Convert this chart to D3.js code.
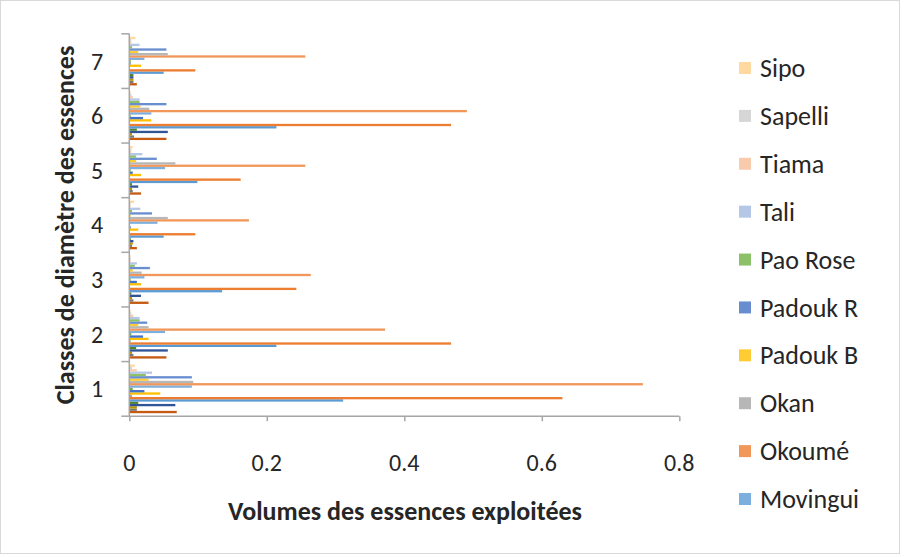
<!DOCTYPE html>
<html>
<head>
<meta charset="utf-8">
<script src="https://cdn.jsdelivr.net/npm/d3@7"></script>
<style>
  html, body { margin: 0; padding: 0; background: #fff; }
  svg { display: block; }
  text { font-family: Carlito, Calibri, Lato, "Open Sans", sans-serif; fill: #262626; }
</style>
</head>
<body>
<svg id="chart" width="904" height="557"></svg>
<script>
// ---- Data ----
const categories = ["1", "2", "3", "4", "5", "6", "7"];
const xTicks = [0, 0.2, 0.4, 0.6, 0.8];
const xTickLabels = ["0", "0.2", "0.4", "0.6", "0.8"];

// series in plot order (first = bottom of each cluster); the first 11 are not visible in the truncated legend
const seriesNames = [
  "Essence 1", "Essence 2", "Essence 3", "Essence 4", "Essence 5", "Essence 6",
  "Essence 7", "Essence 8", "Essence 9", "Essence 10", "Essence 11",
  "Movingui", "Okoumé", "Okan", "Padouk B", "Padouk R", "Pao Rose",
  "Tali", "Tiama", "Sapelli", "Sipo"
];
const seriesColors = [
  "#C55A11", "#7B7B7B", "#BF9000", "#2F5597", "#548235", "#5B9BD5",
  "#ED7D31", "#A5A5A5", "#FFC000", "#4472C4", "#70AD47",
  "#7CAFDD", "#F1975A", "#B7B7B7", "#FFCD33", "#698ED0", "#8CC168",
  "#B4C7E7", "#F8CBAD", "#D6D6D6", "#FFD9A0"
];
const essence1  = [0.069, 0.054, 0.028, 0.011, 0.017, 0.054, 0.011];
const essence2  = [0.011, 0.006, 0.006, 0.004, 0.005, 0.007, 0.006];
const essence3  = [0.011, 0.004, 0.004, 0.005, 0.004, 0.004, 0.006];
const essence4  = [0.067, 0.056, 0.017, 0.006, 0.013, 0.056, 0.006];
const essence5  = [0.013, 0.010, 0.003, 0.002, 0.004, 0.011, 0.006];
const essence6  = [0.311, 0.214, 0.135, 0.050, 0.099, 0.214, 0.050];
const essence7  = [0.630, 0.468, 0.243, 0.096, 0.162, 0.468, 0.096];
const essence8  = [0.004, 0.002, 0.001, 0.001, 0.001, 0.001, 0.001];
const essence9  = [0.045, 0.028, 0.017, 0.013, 0.017, 0.032, 0.017];
const essence10 = [0.022, 0.020, 0.011, 0.002, 0.005, 0.020, 0.002];
const essence11 = [0.005, 0.003, 0.002, 0.001, 0.002, 0.002, 0.002];
const movingui  = [0.091, 0.052, 0.022, 0.041, 0.052, 0.032, 0.022];
const okoume    = [0.747, 0.372, 0.264, 0.174, 0.256, 0.491, 0.256];
const okan      = [0.093, 0.028, 0.018, 0.056, 0.067, 0.029, 0.056];
const padoukB   = [0.028, 0.013, 0.005, 0.002, 0.010, 0.016, 0.013];
const padoukR   = [0.091, 0.026, 0.030, 0.033, 0.040, 0.054, 0.054];
const paoRose   = [0.024, 0.015, 0.008, 0.004, 0.010, 0.015, 0.004];
const tali      = [0.033, 0.015, 0.011, 0.016, 0.019, 0.015, 0.015];
const tiama     = [0.011, 0.006, 0.002, 0.002, 0.003, 0.005, 0.003];
const sapelli   = [0.004, 0.003, 0.002, 0.002, 0.003, 0.003, 0.003];
const sipo      = [0.008, 0.002, 0.002, 0.007, 0.005, 0.002, 0.009];
const seriesValues = [essence1, essence2, essence3, essence4, essence5, essence6,
  essence7, essence8, essence9, essence10, essence11,
  movingui, okoume, okan, padoukB, padoukR, paoRose, tali, tiama, sapelli, sipo];
// legend (truncated in the original): shown top to bottom
const legendNames = ["Sipo", "Sapelli", "Tiama", "Tali", "Pao Rose", "Padouk R", "Padouk B", "Okan", "Okoumé", "Movingui"];

const xTitle = "Volumes des essences exploitées";
const yTitle = "Classes de diamètre des essences";

// ---- Layout ----
const svg = d3.select("#chart");
const plot = { left: 129.3, right: 679.3, top: 33.8, bottom: 416.2 };
const axisColor = "#A6A6A6";
const tickFont = 24, legendFont = 26, titleFont = 26;

svg.append("rect").attr("x", 0.5).attr("y", 0.5).attr("width", 899).attr("height", 553)
  .attr("fill", "#fff").attr("stroke", "#D9D9D9");

const x = d3.scaleLinear().domain([0, 0.8]).range([plot.left, plot.right]);
const y = d3.scaleBand().domain(categories).range([plot.bottom, plot.top])
  .paddingInner(0.11).paddingOuter(0.055);
const ySeries = d3.scaleBand().domain(d3.range(seriesNames.length)).range([y.bandwidth(), 0]);

// bars
const rows = [];
seriesValues.forEach((vals, si) => vals.forEach((v, ci) => rows.push({ si, c: categories[ci], v })));
svg.append("g").selectAll("rect").data(rows).join("rect")
  .attr("x", x(0))
  .attr("y", d => y(d.c) + ySeries(d.si))
  .attr("height", ySeries.bandwidth())
  .attr("width", d => x(d.v) - x(0))
  .attr("fill", d => seriesColors[d.si]);

// x axis
const xAxis = svg.append("g").attr("transform", `translate(0,${plot.bottom})`)
  .call(d3.axisBottom(x).tickValues(xTicks).tickSize(5).tickFormat(""));
xAxis.select(".domain").attr("stroke", axisColor).attr("stroke-width", 1.5).attr("d", `M${plot.left},0H${plot.right}`);
xAxis.selectAll(".tick line").attr("stroke", axisColor).attr("stroke-width", 1.5);
svg.append("g").selectAll("text").data(xTicks).join("text")
  .attr("x", d => x(d)).attr("y", 471)
  .attr("text-anchor", "middle").attr("font-size", tickFont)
  .text((d, i) => xTickLabels[i]);

// y axis
const step = y.step();
const gap = step - y.bandwidth();
const bounds = categories.map(c => y(c) - gap / 2).concat([plot.bottom]);
const yAxis = svg.append("g");
yAxis.append("line").attr("x1", plot.left).attr("x2", plot.left)
  .attr("y1", plot.top).attr("y2", plot.bottom).attr("stroke", axisColor).attr("stroke-width", 1.5);
yAxis.selectAll("line.tk").data(bounds).join("line").attr("class", "tk")
  .attr("x1", plot.left - 8).attr("x2", plot.left).attr("y1", d => d).attr("y2", d => d)
  .attr("stroke", axisColor).attr("stroke-width", 1.5);
yAxis.selectAll("text").data(categories).join("text")
  .attr("x", 97).attr("y", d => y(d) + y.bandwidth() / 2)
  .attr("dy", "0.35em").attr("text-anchor", "middle").attr("font-size", tickFont)
  .text(d => d);

// titles
svg.append("text").attr("x", 405).attr("y", 520).attr("text-anchor", "middle")
  .attr("font-size", titleFont).attr("font-weight", "bold").text(xTitle);
svg.append("text").attr("transform", "translate(74,225) rotate(-90)").attr("text-anchor", "middle")
  .attr("font-size", titleFont).attr("font-weight", "bold").text(yTitle);

// legend
const legendY = d3.scalePoint().domain(legendNames).range([68, 499]);
const lg = svg.append("g").selectAll("g").data(legendNames).join("g")
  .attr("transform", d => `translate(0,${legendY(d)})`);
lg.append("rect").attr("x", 739).attr("y", -6).attr("width", 12).attr("height", 12)
  .attr("fill", d => seriesColors[seriesNames.indexOf(d)]);
lg.append("text").attr("x", 760).attr("dy", "0.35em").attr("font-size", legendFont).text(d => d);
</script>
</body>
</html>
